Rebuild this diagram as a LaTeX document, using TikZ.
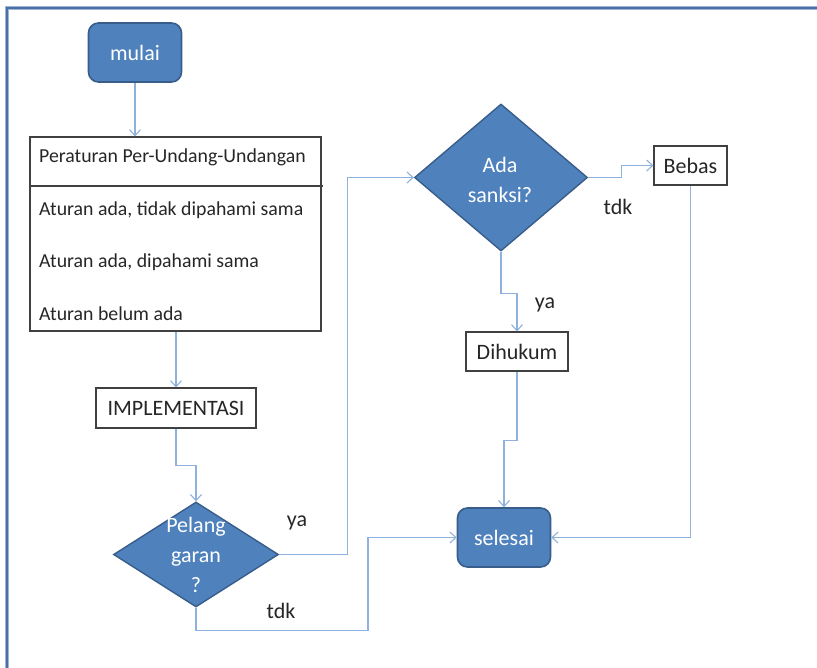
\documentclass[tikz,border=0pt]{standalone}
\usepackage{fontspec}
\setmainfont{Carlito}
\usetikzlibrary{shapes.geometric,arrows.meta,positioning}
\definecolor{fillblue}{HTML}{4F81BD}
\definecolor{edgeblue}{HTML}{385D8A}
\definecolor{linkblue}{HTML}{8EB2DD}
\definecolor{framedark}{HTML}{4A6FA5}
\definecolor{framelight}{HTML}{9DB6D8}
\definecolor{boxedge}{HTML}{404040}
\definecolor{txt}{HTML}{262626}
\tikzset{
  bigfont/.style={font=\fontsize{22}{30}\selectfont},
  listfont/.style={font=\fontsize{19.8}{24}\selectfont, text=txt},
  terminal/.style={draw=edgeblue, line width=1.6pt, fill=fillblue, rounded corners=10pt,
     minimum width=93pt, minimum height=59pt, inner sep=0pt, text=white, bigfont},
  decision/.style={draw=edgeblue, line width=1.4pt, fill=fillblue, shape=diamond,
     inner sep=0pt},
  decisiontext/.style={text=white, align=center, bigfont, inner sep=0pt},
  procbox/.style={draw=boxedge, line width=1.1pt, fill=white, inner sep=0pt,
     text=txt, bigfont},
  link/.style={draw=linkblue, line width=1.3pt,
     -{Straight Barb[length=6pt,width=11pt,line width=1.1pt]}},
  lbl/.style={text=txt, bigfont, inner sep=0pt},
}
\begin{document}
\begin{tikzpicture}[x=1pt,y=-1pt]
\useasboundingbox (0,0) rectangle (817,668);
% frame
\draw[framelight, line width=4pt] (7,680) -- (7,8) -- (830,8);
\draw[framedark, line width=1.8pt] (7,680) -- (7,8) -- (830,8);

% nodes
\node[terminal] (mulai) at (135,52.5) {mulai};
\node[draw=boxedge, line width=1.1pt, minimum width=291pt, minimum height=194pt, inner sep=0pt] (list) at (175.5,234) {};
\coordinate (divL) at (30,186);
\coordinate (divR) at (323,186);
\draw[boxedge, line width=1.1pt] (divL) -- (divR);
\node[listfont, anchor=west, inner sep=0pt] (l1) at (39,157) {Peraturan Per-Undang-Undangan};
\node[listfont, anchor=west, inner sep=0pt] (l2) at (39,210) {Aturan ada, tidak dipahami sama};
\node[listfont, anchor=west, inner sep=0pt] (l3) at (39,262) {Aturan ada, dipahami sama};
\node[listfont, anchor=west, inner sep=0pt] (l4) at (39,314) {Aturan belum ada};

\node[procbox, minimum width=160pt, minimum height=40pt] (impl) at (176,408) {IMPLEMENTASI};
\node[decision, minimum width=165pt, minimum height=105pt] (d1) at (196,554.5) {};
\node[decisiontext] (d1t) at (196,555) {Pelang\\garan\\?};

\node[decision, minimum width=173pt, minimum height=147pt] (d2) at (501,177.5) {};
\node[decisiontext] (d2t) at (500,180) {Ada\\sanksi?};

\node[procbox, minimum width=73pt, minimum height=39pt] (bebas) at (690.5,165.5) {Bebas};
\node[procbox, minimum width=102pt, minimum height=39pt] (hukum) at (517,351.5) {Dihukum};
\node[terminal] (end) at (504,537.5) {selesai};

% connectors
\draw[link] (mulai.south) -- (mulai.south |- list.north);
\draw[link] (list.south -| impl.north) -- (impl.north);
\draw[link] (impl.south) -- ++(0,37) -| (d1.north);
\draw[link] (d1.east) -- ++(68,0) |- (d2.west);
\draw[link] (d1.south) -- ++(0,23) -- ++(172,0) |- (end.west);
\draw[link] (d2.east) -- ++(33,0) |- (bebas.west);
\draw[link] (bebas.south) |- (end.east);
\draw[link] (d2.south) -- ++(0,42) -| (hukum.north);
\draw[link] (hukum.south) -- ++(0,69) -| (end.north);

% labels
\node[lbl] (ya1) at (297,523) {ya};
\node[lbl] (tdk1) at (281,611) {tdk};
\node[lbl] (tdk2) at (618,207) {tdk};
\node[lbl] (ya2) at (545,305) {ya};
\end{tikzpicture}
\end{document}
